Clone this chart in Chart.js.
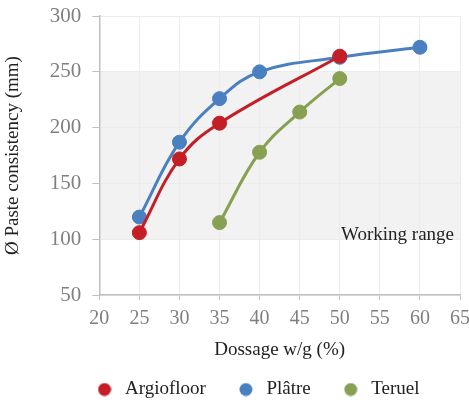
<!DOCTYPE html>
<html>
<head>
<meta charset="utf-8">
<script src="https://cdn.jsdelivr.net/npm/chart.js@4"></script>
<style>
  html, body { margin: 0; padding: 0; background: #fff; }
  #wrap { width: 469px; height: 404px; }
</style>
</head>
<body>
<div id="wrap"><canvas id="chart"></canvas></div>
<script>
const seriesNames = ['Argiofloor', 'Plâtre', 'Teruel'];
const argioX = [25, 30, 35, 50];
const argioY = [106, 172, 204, 264];
const platreX = [25, 30, 35, 40, 50, 60];
const platreY = [120, 187, 226, 250, 263, 272];
const teruelX = [35, 40, 45, 50];
const teruelY = [115, 178, 214, 244];
const workingRange = [100, 250];
const workingLabel = 'Working range';

const colors = ['#c41e26', '#4a80c0', '#88a052'];
const serif = '"Liberation Serif", "DejaVu Serif", serif';

function pts(xs, ys) {
  return xs.map((x, i) => ({ x: x, y: ys[i] }));
}

// small round marker for the legend
function dot(color) {
  const c = document.createElement('canvas');
  c.width = 14;
  c.height = 14;
  const g = c.getContext('2d');
  g.fillStyle = color;
  g.beginPath();
  g.arc(7, 7, 6.5, 0, Math.PI * 2);
  g.fill();
  return c;
}

const bandPlugin = {
  id: 'band',
  afterLayout(chart) {
    // nudge the legend row under the plot, keep its box down to the bottom edge
    const lg = chart.legend;
    lg.left += 21;
    lg.right += 21;
    lg.top -= 10;
    lg.bottom = chart.height;
    lg.height = lg.bottom - lg.top;
  },
  beforeDraw(chart) {
    const { ctx, chartArea, scales } = chart;
    const top = scales.y.getPixelForValue(workingRange[1]);
    const bottom = scales.y.getPixelForValue(workingRange[0]);
    ctx.save();
    ctx.fillStyle = '#f2f2f2';
    ctx.fillRect(chartArea.left, top, chartArea.right - chartArea.left, bottom - top);
    ctx.restore();
  },
  beforeDatasetsDraw(chart) {
    const { ctx, chartArea, scales } = chart;
    const bottom = scales.y.getPixelForValue(workingRange[0]);
    ctx.save();
    ctx.fillStyle = '#222';
    ctx.font = '19px ' + serif;
    ctx.textAlign = 'right';
    ctx.textBaseline = 'alphabetic';
    ctx.fillText(workingLabel, chartArea.right - 6, bottom + 1);
    ctx.restore();
  }
};

const allData = [pts(argioX, argioY), pts(platreX, platreY), pts(teruelX, teruelY)];

new Chart(document.getElementById('chart'), {
  type: 'line',
  data: {
    datasets: seriesNames.map((n, i) => ({
      label: n,
      data: allData[i],
      borderColor: colors[i],
      backgroundColor: colors[i],
      pointBackgroundColor: colors[i],
      pointBorderColor: colors[i],
      borderWidth: 3,
      pointRadius: 7,
      pointBorderWidth: 1,
      tension: 0.4,
      fill: false
    }))
  },
  options: {
    responsive: true,
    maintainAspectRatio: false,
    animation: false,
    layout: { padding: { left: 2, right: 0, top: 0, bottom: 0 } },
    plugins: {
      legend: {
        position: 'bottom',
        maxHeight: 43,
        labels: {
          usePointStyle: true,
          pointStyleWidth: 22,
          boxHeight: 13,
          padding: 29,
          color: '#222',
          font: { family: serif, size: 19 },
          generateLabels(chart) {
            const items = Chart.defaults.plugins.legend.labels.generateLabels(chart);
            items.forEach((it, i) => { it.pointStyle = dot(colors[i]); });
            return items;
          }
        }
      },
      tooltip: { enabled: false }
    },
    scales: {
      x: {
        type: 'linear',
        min: 20,
        max: 65,
        afterFit(scale) { scale.paddingRight = 9; },
        ticks: { stepSize: 5, color: '#7f7f7f', font: { family: serif, size: 20 }, padding: 7 },
        grid: { color: '#ececec', tickColor: '#bfbfbf', tickLength: 5 },
        border: { color: '#bfbfbf', width: 1.5 },
        title: { display: true, text: 'Dossage w/g (%)', color: '#222', font: { family: serif, size: 19 }, padding: { top: 0, bottom: 0 } }
      },
      y: {
        min: 50,
        max: 300,
        afterFit(scale) { scale.paddingTop = 16; },
        ticks: { stepSize: 50, color: '#7f7f7f', font: { family: serif, size: 21 }, padding: 11 },
        grid: { color: '#ececec', tickColor: '#bfbfbf', tickLength: 7 },
        border: { color: '#bfbfbf', width: 1.5 },
        title: { display: true, text: 'Ø Paste consistency (mm)', color: '#222', font: { family: serif, size: 19 }, padding: { top: 0, bottom: 14 } }
      }
    }
  },
  plugins: [bandPlugin]
});
</script>
</body>
</html>
